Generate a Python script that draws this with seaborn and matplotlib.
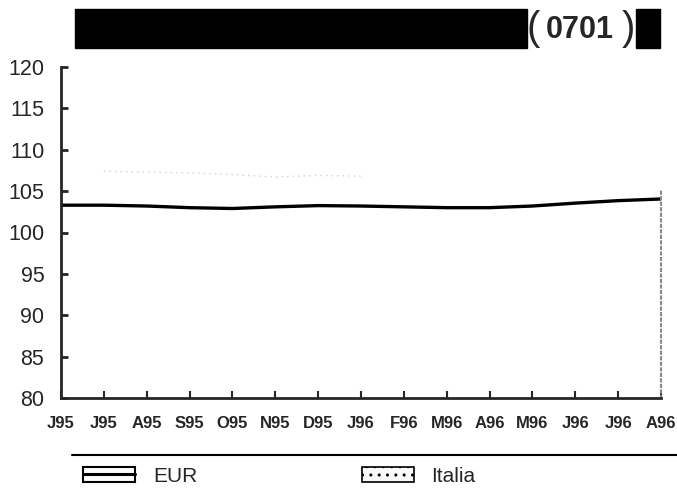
import numpy as np
import pandas as pd
import matplotlib.pyplot as plt
import seaborn as sns
from matplotlib.patches import Patch, Rectangle
from matplotlib.lines import Line2D
from matplotlib.legend_handler import HandlerTuple

# data
months = ['J95', 'J95', 'A95', 'S95', 'O95', 'N95', 'D95', 'J96',
          'F96', 'M96', 'A96', 'M96', 'J96', 'J96', 'A96']
eur = [103.3, 103.3, 103.2, 103.0, 102.9, 103.1, 103.25, 103.2,
       103.1, 103.0, 103.0, 103.2, 103.55, 103.85, 104.05]
italia = [np.nan, 107.4, 107.3, 107.2, 107.0, 106.7, 106.9, 106.8,
          np.nan, np.nan, np.nan, np.nan, np.nan, np.nan, np.nan]
y_ticks = [80, 85, 90, 95, 100, 105, 110, 115, 120]

df = pd.DataFrame({'pos': range(len(months)), 'EUR': eur, 'Italia': italia})

sns.set_style('ticks')
plt.rcParams['font.family'] = ['Liberation Sans', 'DejaVu Sans']
plt.rcParams['hatch.color'] = '#cccccc'

W, H = 677, 493
fig = plt.figure(figsize=(W / 100, H / 100), dpi=100)
ax = fig.add_axes([61 / W, 1 - 398 / H, 600 / W, 331 / H])

sns.lineplot(data=df, x='pos', y='Italia', ax=ax, color='#cfcfcf',
             linewidth=1.0, linestyle=(0, (1, 3)))
sns.lineplot(data=df, x='pos', y='EUR', ax=ax, color='black', linewidth=2.4)

ax.set_xlim(0, len(months) - 1)
ax.set_ylim(80, 120)
ax.set_yticks(y_ticks)
ax.set_xticks(range(len(months)))
ax.set_xticklabels(months, fontweight='bold', fontsize=12)
ax.tick_params(axis='y', labelsize=15.5, direction='in', length=5, width=2, pad=12)
ax.tick_params(axis='x', direction='in', length=5, width=1.5, pad=13)
ax.set_xlabel('')
ax.set_ylabel('')
for s in ['left', 'bottom']:
    ax.spines[s].set_linewidth(2)
ax.spines['top'].set_visible(False)
ax.spines['right'].set_bounds(80, 105)
ax.spines['right'].set_linestyle(':')
ax.spines['right'].set_color('#888888')
ax.spines['right'].set_linewidth(1.5)

# title bar
fig.patches.append(Rectangle((75 / W, 1 - 48 / H), 452 / W, 39 / H,
                             transform=fig.transFigure, color='black'))
fig.patches.append(Rectangle((636 / W, 1 - 48 / H), 24 / W, 39 / H,
                             transform=fig.transFigure, color='black'))
fig.text(580 / W, 1 - 30 / H, '0701', ha='center', va='center',
         fontsize=22, fontweight='bold')
fig.text(533 / W, 1 - 29 / H, '(', ha='center', va='center', fontsize=29)
fig.text(628 / W, 1 - 29 / H, ')', ha='center', va='center', fontsize=29)

# separator line above legend
fig.add_artist(Line2D([72 / W, 1.0], [1 - 455 / H, 1 - 455 / H],
                      color='black', linewidth=1.5))

eur_handle = (Patch(facecolor='white', edgecolor='black', linewidth=1.5),
              Line2D([], [], color='black', linewidth=2.2))
it_handle = Patch(facecolor='#f9f9f9', edgecolor='black', linewidth=1.2,
                  hatch='..')
leg = fig.legend([eur_handle, it_handle], ['EUR', 'Italia'],
                 handler_map={tuple: HandlerTuple(ndivide=1, pad=0)},
                 loc='center left', bbox_to_anchor=(83 / W, 1 - 476 / H),
                 ncol=2, frameon=False, fontsize=15, handlelength=2.5,
                 handleheight=0.7, columnspacing=7.9, handletextpad=0.85,
                 borderpad=0, borderaxespad=0)

fig.savefig('out.png', dpi=100)
